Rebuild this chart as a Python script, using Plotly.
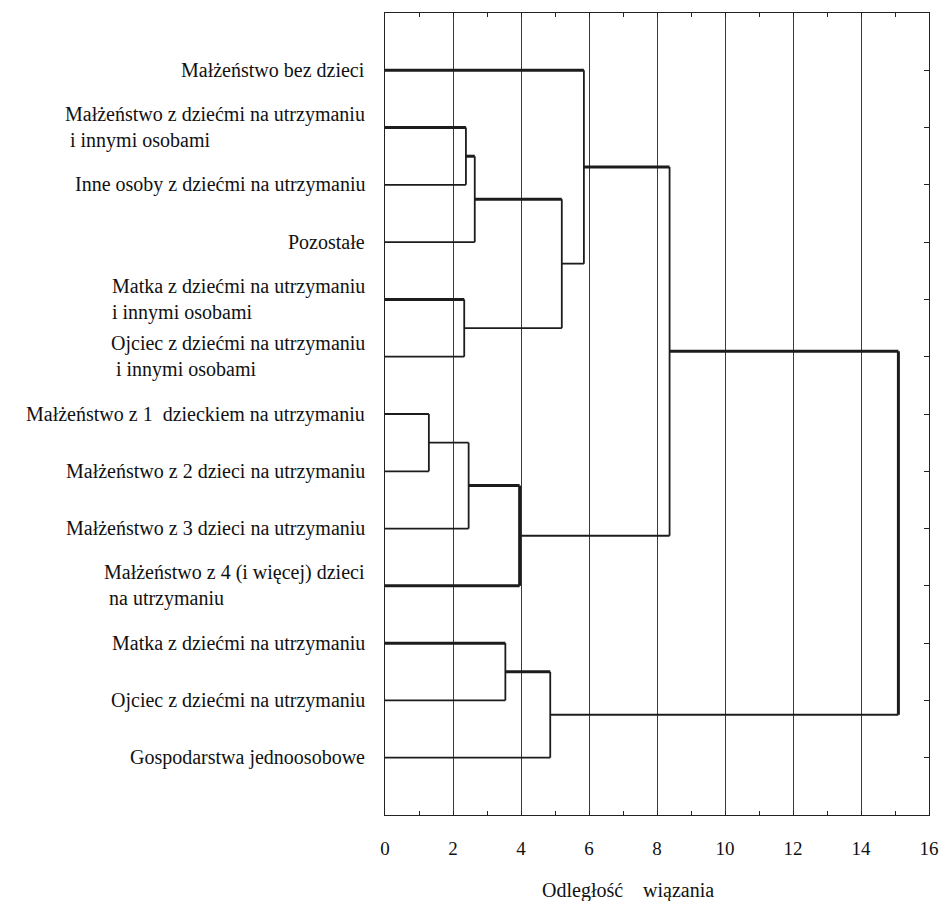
import plotly.graph_objects as go

# ---- data ----
labels = [
    "Małżeństwo bez dzieci",
    "Małżeństwo z dziećmi na utrzymaniu<br>\u00a0i innymi osobami",
    "Inne osoby z dziećmi na utrzymaniu",
    "Pozostałe",
    "Matka z dziećmi na utrzymaniu<br>i innymi osobami",
    "Ojciec z dziećmi na utrzymaniu<br>\u00a0i innymi osobami",
    "Małżeństwo z 1  dzieckiem na utrzymaniu",
    "Małżeństwo z 2 dzieci na utrzymaniu",
    "Małżeństwo z 3 dzieci na utrzymaniu",
    "Małżeństwo z 4 (i więcej) dzieci<br>\u00a0na utrzymaniu",
    "Matka z dziećmi na utrzymaniu",
    "Ojciec z dziećmi na utrzymaniu",
    "Gospodarstwa jednoosobowe",
]
# linkage: new node ids start at len(labels)
merge_a = [6, 4, 1, 13, 15, 10, 16, 18, 17, 0, 22, 23]
merge_b = [7, 5, 2, 8, 3, 11, 9, 12, 14, 21, 19, 20]
merge_h = [1.29, 2.33, 2.38, 2.46, 2.64, 3.54, 3.96, 4.86, 5.2, 5.85, 8.37, 15.1]
x_ticks = [0, 2, 4, 6, 8, 10, 12, 14, 16]
x_title = "Odległość\u00a0\u00a0\u00a0\u00a0wiązania"

# ---- styling (not data) ----
thick_arms = {0, 1, 15, 17, 4, 22, 16, 9, 23, 18, 10}
thick_verticals = {19, 24}
W_THICK, W_THIN = 3.0, 1.8
LINE_COLOR = "#1c1c1c"
FONT = "'Liberation Serif', 'Times New Roman', Times, serif"

n = len(labels)
pos_y = {i: i + 1 for i in range(n)}
pos_x = {i: 0.0 for i in range(n)}

segs = {W_THICK: ([], []), W_THIN: ([], [])}


def add(w, xs, ys):
    segs[w][0].extend(xs + [None])
    segs[w][1].extend(ys + [None])


for k, (a, b, h) in enumerate(zip(merge_a, merge_b, merge_h)):
    node = n + k
    ya, yb = pos_y[a], pos_y[b]
    add(W_THICK if a in thick_arms else W_THIN, [pos_x[a], h], [ya, ya])
    add(W_THICK if b in thick_arms else W_THIN, [pos_x[b], h], [yb, yb])
    add(W_THICK if node in thick_verticals else W_THIN, [h, h], [ya, yb])
    pos_y[node] = (ya + yb) / 2
    pos_x[node] = h

fig = go.Figure()
for w, (xs, ys) in segs.items():
    fig.add_trace(go.Scatter(x=xs, y=ys, mode="lines",
                             line=dict(color=LINE_COLOR, width=w),
                             hoverinfo="skip", showlegend=False))

for i, lab in enumerate(labels):
    fig.add_annotation(x=0, xref="paper", y=pos_y[i], yref="y",
                       text=lab, showarrow=False, xanchor="right",
                       yanchor="middle", align="left", xshift=-18,
                       font=dict(family=FONT, size=20, color="#111"))

fig.add_annotation(x=0.447, xref="paper", y=0, yref="paper", yshift=-75,
                   text=x_title, showarrow=False, xanchor="center",
                   yanchor="middle",
                   font=dict(family=FONT, size=20, color="#111"))

fig.update_layout(
    width=949, height=901,
    margin=dict(l=385, r=10, t=13, b=86),
    paper_bgcolor="white", plot_bgcolor="white",
    font=dict(family=FONT, size=18, color="#111"),
    xaxis=dict(range=[0, 16], tickvals=x_ticks, ticktext=[str(t) for t in x_ticks],
               showgrid=True, gridcolor="#3a3a3a", gridwidth=1,
               zeroline=False, showline=True, linecolor="#222", linewidth=1.2,
               mirror="ticks", ticks="inside", ticklen=4, tickcolor="#222",
               ticklabelstandoff=16,
               minor=dict(dtick=1, ticks="inside", ticklen=4, tickcolor="#222",
                          showgrid=False),
               tickfont=dict(family=FONT, size=19, color="#111")),
    yaxis=dict(range=[14, 0], side="right", tickvals=list(range(1, n + 1)),
               showticklabels=False, showgrid=False, zeroline=False,
               showline=True, linecolor="#222", linewidth=1.2, mirror=True,
               ticks="inside", ticklen=5, tickcolor="#222"),
)

fig.write_html("out.html", config={"displayModeBar": False},
               post_script="document.body.style.margin='0';"
                           "document.body.style.padding='0';")
